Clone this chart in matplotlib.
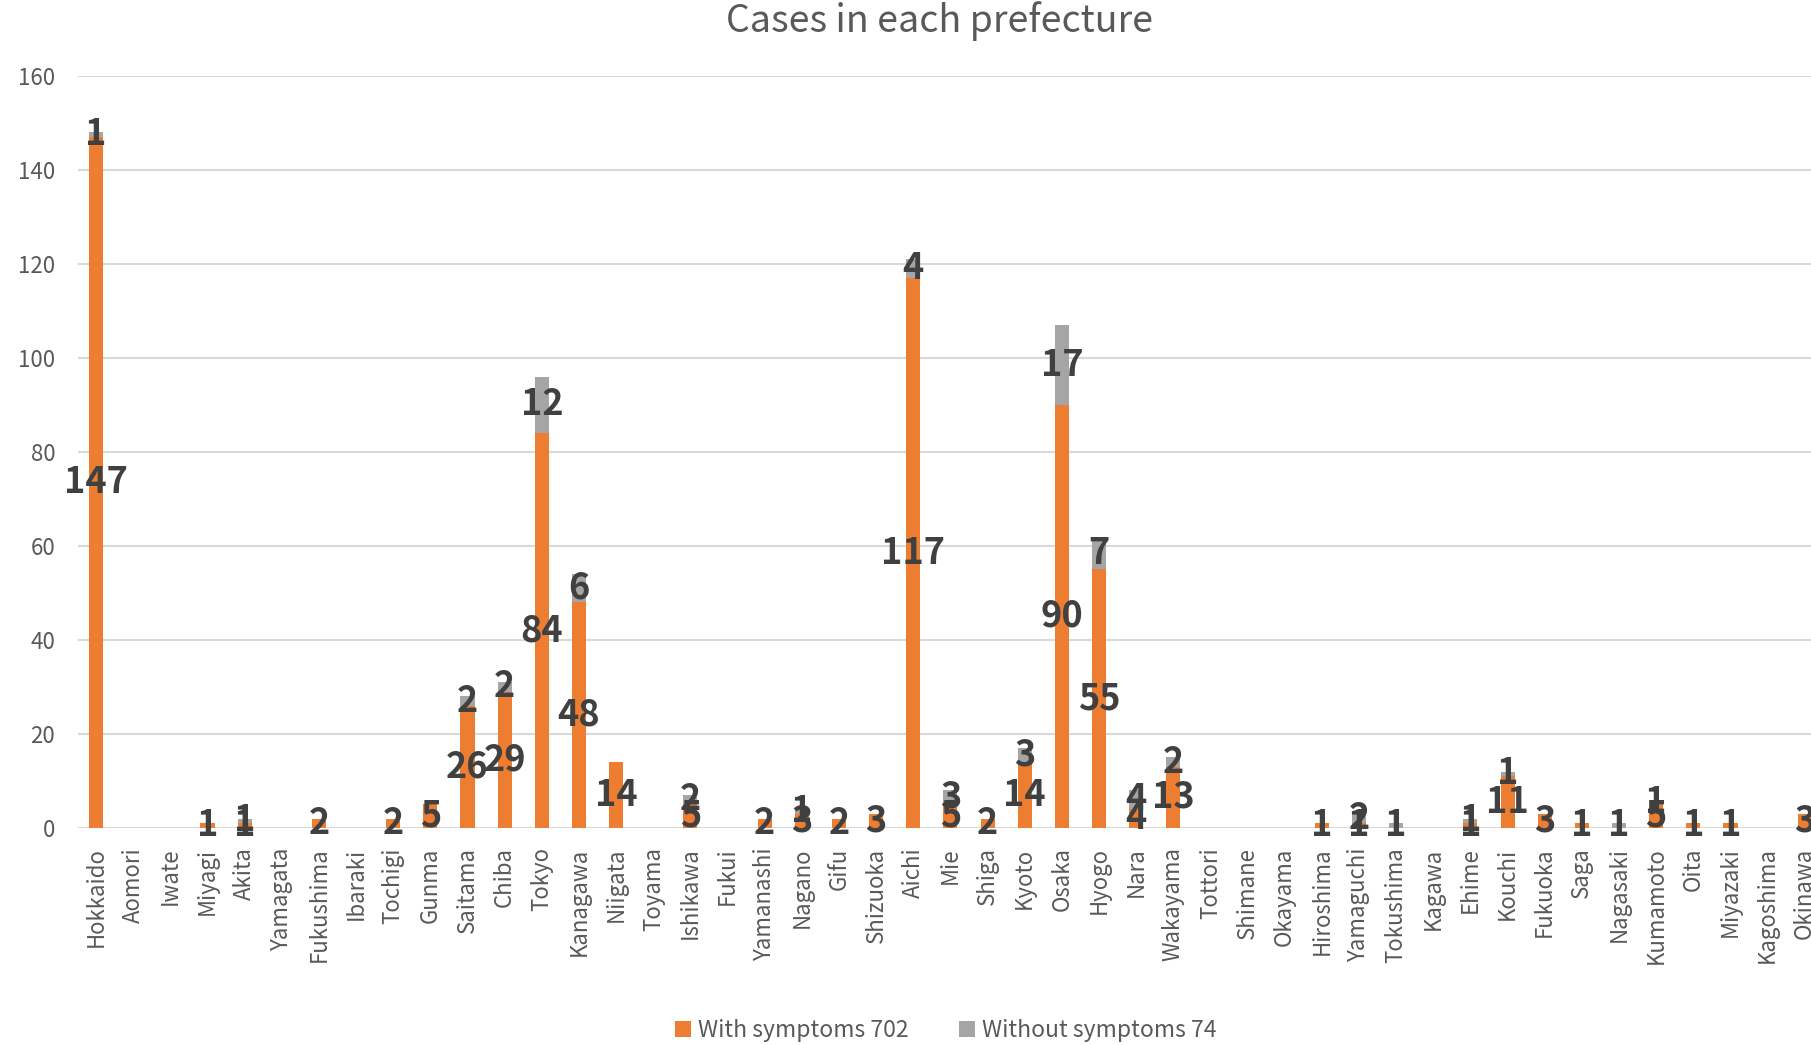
import matplotlib
matplotlib.use("Agg")
import matplotlib.pyplot as plt
import numpy as np

plt.rcParams['font.family'] = ['Noto Sans CJK JP', 'DejaVu Sans']

# prefectures in order
prefectures = ["Hokkaido", "Aomori", "Iwate", "Miyagi", "Akita", "Yamagata", "Fukushima",
               "Ibaraki", "Tochigi", "Gunma", "Saitama", "Chiba", "Tokyo", "Kanagawa",
               "Niigata", "Toyama", "Ishikawa", "Fukui", "Yamanashi", "Nagano", "Gifu",
               "Shizuoka", "Aichi", "Mie", "Shiga", "Kyoto", "Osaka", "Hyogo", "Nara",
               "Wakayama", "Tottori", "Shimane", "Okayama", "Hiroshima", "Yamaguchi",
               "Tokushima", "Kagawa", "Ehime", "Kouchi", "Fukuoka", "Saga", "Nagasaki",
               "Kumamoto", "Oita", "Miyazaki", "Kagoshima", "Okinawa"]

# cases with symptoms
with_symptoms = [147, 0, 0, 1, 1, 0, 2, 0, 2, 5, 26, 29, 84, 48, 14, 0, 5, 0, 2, 3, 2,
                 3, 117, 5, 2, 14, 90, 55, 4, 13, 0, 0, 0, 1, 1, 0, 0, 1, 11, 3, 1, 0,
                 5, 1, 1, 0, 3]
# cases without symptoms
without_symptoms = [1, 0, 0, 0, 1, 0, 0, 0, 0, 0, 2, 2, 12, 6, 0, 0, 2, 0, 0, 1, 0,
                    0, 4, 3, 0, 3, 17, 7, 4, 2, 0, 0, 0, 0, 2, 1, 0, 1, 1, 0, 0, 1,
                    1, 0, 0, 0, 0]

orange = "#ED7D31"
grey = "#A5A5A5"
label_col = "#404040"
text_col = "#595959"

fig = plt.figure(figsize=(18.11, 10.45), dpi=100)
ax = fig.add_axes([0.0428, 0.2077, 0.964, 0.7196])

x = np.arange(len(prefectures))
w = 0.38
b1 = ax.bar(x, with_symptoms, width=w, color=orange, zorder=2,
            label="With symptoms " + str(sum(with_symptoms)))
b2 = ax.bar(x, without_symptoms, width=w, bottom=with_symptoms, color=grey, zorder=2,
            label="Without symptoms " + str(sum(without_symptoms)))

# data labels in the middle of each segment
for i in range(len(prefectures)):
    if with_symptoms[i] > 0:
        ax.text(x[i], with_symptoms[i] / 2, str(with_symptoms[i]), ha='center', va='center',
                fontsize=26, fontweight='bold', color=label_col, zorder=3)
    if without_symptoms[i] > 0:
        ax.text(x[i], with_symptoms[i] + without_symptoms[i] / 2, str(without_symptoms[i]),
                ha='center', va='center', fontsize=26, fontweight='bold', color=label_col, zorder=3)

ax.set_xlim(-0.5, len(prefectures) - 0.5)
ax.set_ylim(0, 160)
ax.set_yticks(range(0, 161, 20))
ax.grid(axis='y', color="#D9D9D9", linewidth=1.5, zorder=0)
for s in ax.spines.values():
    s.set_visible(False)
ax.tick_params(axis='both', length=0, colors=text_col, labelsize=16)
ax.tick_params(axis='y', pad=16)
ax.tick_params(axis='x', pad=14)
ax.set_xticks(x)
ax.set_xticklabels(prefectures, rotation=90)

fig.text(0.519, 0.98, "Cases in each prefecture", ha='center', va='center',
         fontsize=27, color=text_col)

fig.legend(handles=[b1, b2], loc='center', bbox_to_anchor=(0.522, 0.0134), ncol=2,
           frameon=False, fontsize=16.5, handlelength=0.7, handleheight=0.7,
           handletextpad=0.3, columnspacing=2.2, labelcolor=text_col)

fig.savefig("out.png", dpi=100)
